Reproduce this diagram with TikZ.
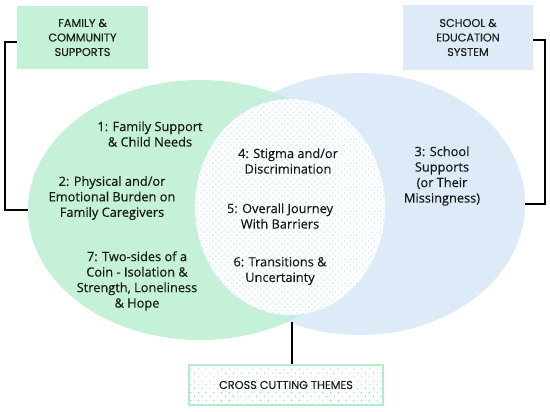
\documentclass[tikz,border=0pt]{standalone}
\usepackage{fontspec}
\setmainfont[FakeBold=0.4]{Open Sans}
\newfontfamily\themefont[FakeBold=0.35]{Open Sans}
\newfontfamily\titlefont[FakeBold=0.4]{Poppins}
\usetikzlibrary{shapes.geometric,patterns.meta}
\definecolor{greenfill}{RGB}{196,241,215}
\definecolor{bluefill}{RGB}{221,235,248}
\definecolor{overlapfill}{RGB}{198,237,228}
\definecolor{dotblue}{RGB}{140,215,245}
\definecolor{dotgreen}{RGB}{110,222,155}
\definecolor{boxline}{RGB}{175,238,200}
\begin{document}
\begin{tikzpicture}[x=1pt,y=-1pt,
  theme/.style={align=center, font=\themefont\fontsize{12.8}{15.5}\selectfont, text=black!90, inner sep=0},
  title/.style={font=\titlefont\fontsize{11.3}{14.5}\selectfont, align=center, text=black!88},
  conn/.style={line width=1.5pt, black},
  dotted area/.style 2 args={preaction={fill=white}, pattern={Dots[distance=#2,angle=45,radius=0.65pt]}, pattern color=#1}]
\useasboundingbox (0,0) rectangle (550,412);
% ellipses
\node[ellipse, fill=greenfill, minimum width=344, minimum height=260, inner sep=0] (fam) at (200,210) {};
\node[ellipse, fill=bluefill, minimum width=330, minimum height=262, inner sep=0] (sch) at (360,204) {};
\begin{scope}
  \clip (200,210) ellipse [x radius=172, y radius=130];
  \fill[overlapfill] (360,204) ellipse [x radius=165, y radius=131];
\end{scope}
\node[ellipse, minimum width=190, minimum height=216, inner sep=0, dotted area={dotblue}{4.24pt}] (cross) at (290,207) {};
% boxes
\node[fill=greenfill, minimum width=131, minimum height=63, title] (fambox) at (82.5,37.5) {FAMILY \&\\COMMUNITY\\SUPPORTS};
\node[fill=bluefill, minimum width=130, minimum height=65, title] (schbox) at (468,37.5) {SCHOOL \&\\EDUCATION\\SYSTEM};
\node[draw=boxline, line width=1.6pt, minimum width=194, minimum height=40, dotted area={dotgreen}{5.5pt}, title] (ctbox) at (286,385) {CROSS CUTTING THEMES};
% connectors
\draw[conn] ([yshift=-4.5pt]fambox.west) -- ++(-12,0) |- (fam.west);
\draw[conn] ([yshift=-2.5pt]schbox.east) -- ++(12,0) |- (sch.east);
\coordinate (cs) at ([xshift=2pt,yshift=-7pt]cross.south);
\draw[conn] (cs) -- (cs |- ctbox.north);
% themes
\node[theme] (t1) at (150,134) {1: Family Support\\\& Child Needs};
\node[theme] (t2) at (112,198) {2: Physical and/or\\Emotional Burden on\\Family Caregivers};
\node[theme] (t7) at (137,281) {7: Two-sides of a\\Coin - Isolation \&\\Strength, Loneliness\\\& Hope};
\node[theme] (t4) at (288,161) {4: Stigma and/or\\Discrimination};
\node[theme] (t5) at (280,216) {5: Overall Journey\\With Barriers};
\node[theme] (t6) at (280,271) {6: Transitions \&\\Uncertainty};
\node[theme] (t3) at (442,176) {3: School\\Supports\\(or Their\\Missingness)};
\end{tikzpicture}
\end{document}
